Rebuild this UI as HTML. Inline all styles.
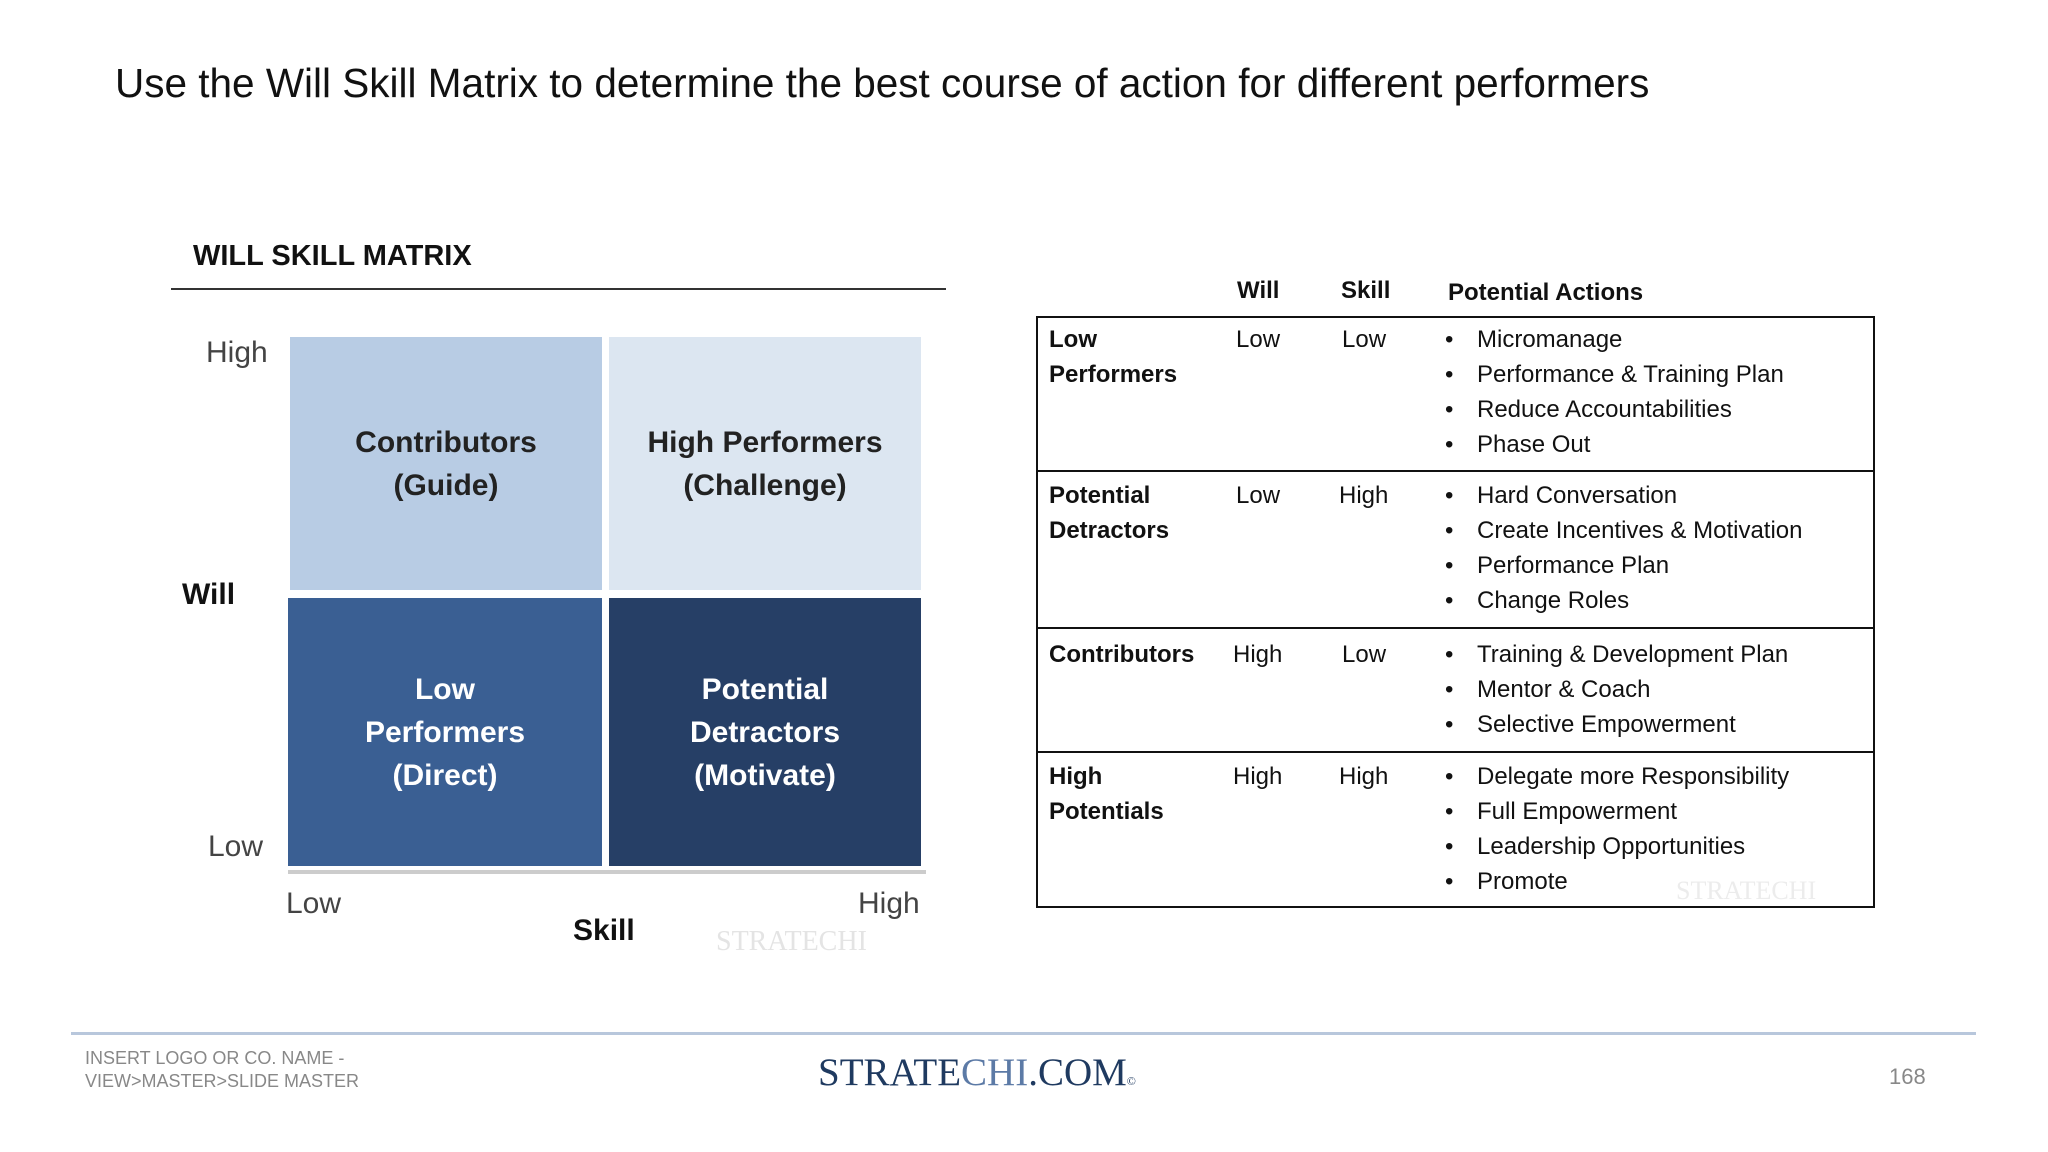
<!DOCTYPE html>
<html><head><meta charset="utf-8"><style>
body{margin:0;width:2048px;height:1152px;background:#fff;position:relative;overflow:hidden;font-family:"Liberation Sans",sans-serif;color:#111}
.a{position:absolute;white-space:nowrap}
.q{position:absolute;display:flex;align-items:center;justify-content:center;text-align:center;font-weight:bold;font-size:30px;line-height:43px}
.t{font-size:24px}
.b{font-weight:bold}
</style></head><body>
<div class="a" style="left:115px;top:60px;font-size:40.5px">Use the Will Skill Matrix to determine the best course of action for different performers</div>
<div class="a b" style="left:193px;top:240px;font-size:29px">WILL SKILL MATRIX</div>
<div class="a" style="left:171px;top:288px;width:775px;height:2px;background:#333"></div>
<div class="q" style="left:290px;top:337px;width:312px;height:253px;background:#b8cce4;color:#222">Contributors<br>(Guide)</div>
<div class="q" style="left:609px;top:337px;width:312px;height:253px;background:#dce6f1;color:#222">High Performers<br>(Challenge)</div>
<div class="q" style="left:288px;top:598px;width:314px;height:268px;background:#3a5f93;color:#fff">Low<br>Performers<br>(Direct)</div>
<div class="q" style="left:609px;top:598px;width:312px;height:268px;background:#263f66;color:#fff">Potential<br>Detractors<br>(Motivate)</div>
<div class="a" style="left:288px;top:870px;width:638px;height:4px;background:#ccc"></div>
<div class="a" style="left:206px;top:336px;font-size:30px;color:#444">High</div>
<div class="a b" style="left:182px;top:578px;font-size:30px">Will</div>
<div class="a" style="left:208px;top:830px;font-size:30px;color:#444">Low</div>
<div class="a" style="left:286px;top:887px;font-size:30px;color:#444">Low</div>
<div class="a" style="left:858px;top:887px;font-size:30px;color:#444">High</div>
<div class="a b" style="left:573px;top:914px;font-size:30px">Skill</div>
<div class="a" style="left:716px;top:926px;font-family:'Liberation Serif',serif;font-size:28px;color:#e4e4e4">STRATECHI</div>
<div class="a" style="left:1676px;top:876px;font-family:'Liberation Serif',serif;font-size:26px;color:#ececec">STRATECHI</div>

<div class="a b t" style="left:1237px;top:277px">Will</div>
<div class="a b t" style="left:1341px;top:277px">Skill</div>
<div class="a b t" style="left:1448px;top:279px">Potential Actions</div>
<div class="a" style="left:1036px;top:316px;width:835px;height:588px;border:2px solid #111"></div>
<div class="a" style="left:1036px;top:470px;width:839px;height:2px;background:#111"></div>
<div class="a" style="left:1036px;top:627px;width:839px;height:2px;background:#111"></div>
<div class="a" style="left:1036px;top:751px;width:839px;height:2px;background:#111"></div>
<div id="rows"></div>
<div class="a" style="left:71px;top:1032px;width:1905px;height:3px;background:#b8c7dc"></div>
<div class="a" style="left:85px;top:1047px;font-size:18px;line-height:23px;color:#888">INSERT LOGO OR CO. NAME -<br>VIEW&gt;MASTER&gt;SLIDE MASTER</div>
<div class="a" style="left:818px;top:1050px;font-family:'Liberation Serif',serif;font-size:39px;color:#1f3a60">STRATE<span style="color:#5c7aa6">CHI</span>.COM<span style="font-size:12px">©</span></div>
<div class="a" style="left:1889px;top:1064px;font-size:22px;color:#888">168</div>
<script>
const rowLabels=[["Low","Performers"],["Potential","Detractors"],["Contributors"],["High","Potentials"]];
const wills=["Low","Low","High","High"];
const skills=["Low","High","Low","High"];
const actions=[["Micromanage","Performance & Training Plan","Reduce Accountabilities","Phase Out"],["Hard Conversation","Create Incentives & Motivation","Performance Plan","Change Roles"],["Training & Development Plan","Mentor & Coach","Selective Empowerment"],["Delegate more Responsibility","Full Empowerment","Leadership Opportunities","Promote"]];
const tops=[322,478,637,759];
const c=document.getElementById('rows');
function add(name,txt,x,y,bold){const d=document.createElement('div');d.className='a t'+(bold?' b':'');d.style.left=x+'px';d.style.top=y+'px';d.style.lineHeight='35px';d.innerHTML=txt;


c.appendChild(d);}
rowLabels.forEach((l,i)=>{const y=tops[i];
add('row-label',l.join('<br>'),1049,y,true);
add('will-value',wills[i],wills[i]=='Low'?1236:1233,y,false);
add('skill-value',skills[i],skills[i]=='Low'?1342:1339,y,false);
actions[i].forEach((a,j)=>{add('action-bullet','•',1445,y+j*35,false);add('action-item',a.replace('&','&amp;'),1477,y+j*35,false);});
});
</script>
</body></html>
